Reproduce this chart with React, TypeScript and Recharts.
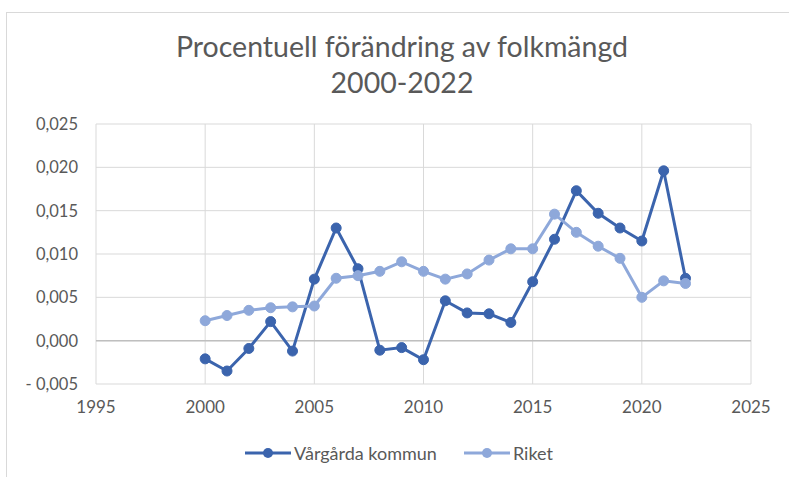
import { LineChart, Line, XAxis, YAxis, CartesianGrid, Legend, ReferenceLine } from "recharts";

// Year-on-year population change, 2000-2022
const years = [2000, 2001, 2002, 2003, 2004, 2005, 2006, 2007, 2008, 2009, 2010, 2011, 2012, 2013, 2014, 2015, 2016, 2017, 2018, 2019, 2020, 2021, 2022];
const vargarda = [-0.0021, -0.0035, -0.0009, 0.0022, -0.0012, 0.0071, 0.013, 0.0083, -0.0011, -0.0008, -0.0022, 0.0046, 0.0032, 0.0031, 0.0021, 0.0068, 0.0117, 0.0173, 0.0147, 0.013, 0.0115, 0.0196, 0.0072];
const riket = [0.0023, 0.0029, 0.0035, 0.0038, 0.0039, 0.004, 0.0072, 0.0075, 0.008, 0.0091, 0.008, 0.0071, 0.0077, 0.0093, 0.0106, 0.0106, 0.0146, 0.0125, 0.0109, 0.0095, 0.005, 0.0069, 0.0066];
const xTicks = [1995, 2000, 2005, 2010, 2015, 2020, 2025];
const yTicks = [-0.005, 0, 0.005, 0.01, 0.015, 0.02, 0.025];

const data = years.map((year, i) => ({ year, vargarda: vargarda[i], riket: riket[i] }));

const DARK = "#3b64ad";
const LIGHT = "#8ea8da";
const TEXT = "#595959";
const FONT = "Lato, 'Open Sans', sans-serif";

const formatY = (v: number) => {
  const s = Math.abs(v).toFixed(3).replace(".", ",");
  return v < 0 ? `- ${s}` : s;
};

const LegendItem = ({ color, label }: { color: string; label: string }) => (
  <div style={{ display: "flex", alignItems: "center", gap: 3 }}>
    <svg width={46} height={12}>
      <line x1={0} y1={6} x2={46} y2={6} stroke={color} strokeWidth={3} />
      <circle cx={23} cy={6} r={5} fill={color} />
    </svg>
    <span style={{ color: TEXT, fontSize: 18, fontFamily: FONT }}>{label}</span>
  </div>
);

const renderLegend = () => (
  <div style={{ display: "flex", justifyContent: "center", gap: 27, paddingLeft: 32, paddingTop: 6 }}>
    <LegendItem color={DARK} label="Vårgårda kommun" />
    <LegendItem color={LIGHT} label="Riket" />
  </div>
);

export default function App() {
  return (
    <div style={{ position: "fixed", left: 0, top: 0, width: 789, height: 477, background: "#fff" }}>
      <div style={{ position: "absolute", left: 6, top: 12, width: 790, height: 470, border: "1px solid #d9d9d9" }} />
      <div
        style={{
          position: "absolute",
          left: 0,
          top: 28,
          width: 804,
          textAlign: "center",
          color: TEXT,
          fontFamily: FONT,
          fontSize: 28.5,
          lineHeight: "36px",
        }}
      >
        Procentuell förändring av folkmängd
        <br />
        2000-2022
      </div>
      <LineChart
        width={789}
        height={477}
        data={data}
        margin={{ top: 124, right: 38, bottom: 11, left: 15 }}
        style={{ position: "absolute", left: 0, top: 0 }}
      >
        <CartesianGrid stroke="#d9d9d9" strokeWidth={1} />
        <XAxis
          dataKey="year"
          type="number"
          domain={[1995, 2025]}
          ticks={xTicks}
          axisLine={false}
          tickLine={false}
          tickSize={0}
          tickMargin={17}
          height={52}
          tick={{ fill: TEXT, fontSize: 17, fontFamily: FONT }}
        />
        <YAxis
          domain={[-0.005, 0.025]}
          ticks={yTicks}
          axisLine={false}
          tickLine={false}
          tickSize={0}
          tickMargin={18}
          width={81}
          tickFormatter={formatY}
          tick={{ fill: TEXT, fontSize: 16.5, fontFamily: FONT }}
        />
        <ReferenceLine y={0} stroke="#bfbfbf" strokeWidth={1.5} />
        <Line
          dataKey="vargarda"
          stroke={DARK}
          strokeWidth={3}
          dot={{ r: 5, fill: DARK, stroke: DARK, strokeWidth: 1 }}
          isAnimationActive={false}
        />
        <Line
          dataKey="riket"
          stroke={LIGHT}
          strokeWidth={3}
          dot={{ r: 5, fill: LIGHT, stroke: LIGHT, strokeWidth: 1 }}
          isAnimationActive={false}
        />
        <Legend content={renderLegend} verticalAlign="bottom" height={30} />
      </LineChart>
    </div>
  );
}
